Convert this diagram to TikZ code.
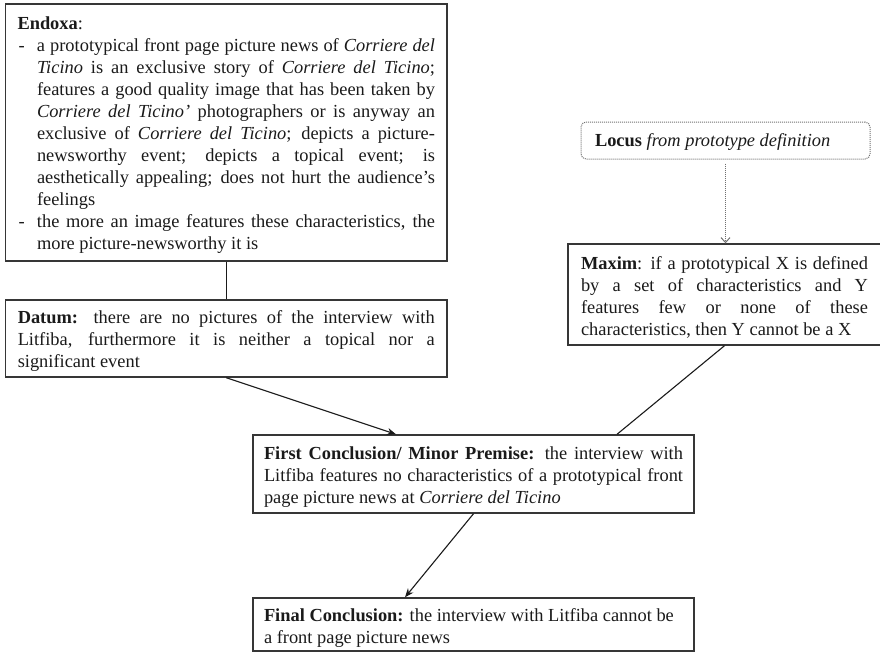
\documentclass[tikz,border=0pt]{standalone}
\usepackage{fontspec}
\setmainfont{Liberation Serif}
\usetikzlibrary{arrows.meta}
\definecolor{ink}{HTML}{1A1A1A}
\definecolor{edge}{HTML}{363636}
\definecolor{dotc}{HTML}{707070}
% justified line / natural line of given width
\newcommand\jl[2]{\hbox to #1{#2}}
\newcommand\nl[2]{\hbox to #1{#2\hfil}}
\newcommand\lines[2][6pt]{\vbox{\baselineskip=22pt\lineskiplimit=-30pt\lineskip=0pt\kern#1 #2}}
\newcommand\dashcell{\hbox to 19.5pt{\hskip1pt-\hfil}}
\newcommand\indcell{\hbox to 19.5pt{}}
\begin{document}
\begin{tikzpicture}[x=1pt,y=-1pt,
  box/.style={draw=edge, line width=1.4pt, inner sep=0pt, text=ink,
    font=\fontsize{18.4}{22}\selectfont},
  conn/.style={draw=ink, line width=1.1pt},
  arr/.style={conn, -{Stealth[length=9pt,width=7pt]}},
  dotarr/.style={draw=dotc, line width=1pt, dash pattern=on 1pt off 1pt,
    -{Straight Barb[length=5pt,width=9pt]}},
  locusbox/.style={box, draw=dotc, line width=1pt, dash pattern=on 1pt off 1pt, rounded corners=5pt}]
\useasboundingbox (0,0) rectangle (880,653);

\node[box, minimum width=441.5pt, minimum height=257pt] (endoxa) at (226.25,132.5) {\lines{%
\nl{417.5pt}{\textbf{Endoxa}:}
\hbox{\dashcell\jl{398pt}{a prototypical front page picture news of \textit{Corriere del}}}
\hbox{\indcell\jl{398pt}{\textit{Ticino} is an exclusive story of \textit{Corriere del Ticino};}}
\hbox{\indcell\jl{398pt}{features a good quality image that has been taken by}}
\hbox{\indcell\jl{398pt}{\textit{Corriere del Ticino’} photographers or is anyway an}}
\hbox{\indcell\jl{398pt}{exclusive of \textit{Corriere del Ticino}; depicts a picture-}}
\hbox{\indcell\jl{398pt}{newsworthy event; depicts a topical event; is}}
\hbox{\indcell\jl{398pt}{aesthetically appealing; does not hurt the audience’s}}
\hbox{\indcell\nl{398pt}{feelings}}
\hbox{\dashcell\jl{398pt}{the more an image features these characteristics, the}}
\hbox{\indcell\nl{398pt}{more picture-newsworthy it is}}}};

\node[box, minimum width=441.5pt, minimum height=77pt] (datum) at (226.25,338.5) {\lines{%
\jl{417pt}{\textbf{Datum:} there are no pictures of the interview with}
\jl{417pt}{Litfiba, furthermore it is neither a topical nor a}
\nl{417pt}{significant event}}};

\node[locusbox, minimum width=289pt, minimum height=37pt] (locus) at (725.5,140.5) {\lines[4pt]{%
\nl{261pt}{\textbf{Locus} \textit{from prototype definition}}}};

\node[box, minimum width=313pt, minimum height=101pt] (maxim) at (724.5,294.5) {\lines{%
\jl{287pt}{\textbf{Maxim}: if  a prototypical X is defined}
\jl{287pt}{by a set of characteristics and Y}
\jl{287pt}{features few or none of these}
\nl{287pt}{characteristics, then Y cannot be a X}}};

\node[box, minimum width=441pt, minimum height=78pt] (fc) at (473.5,474) {\lines[7pt]{%
\jl{419pt}{\textbf{First Conclusion/ Minor Premise:} the interview with}
\jl{419pt}{Litfiba features no characteristics of a prototypical front}
\nl{419pt}{page picture news at \textit{Corriere del Ticino}}}};

\node[box, minimum width=441pt, minimum height=53pt] (final) at (473.5,624.5) {\lines[7pt]{%
\nl{419pt}{\textbf{Final Conclusion:} the interview with Litfiba cannot be}
\nl{419pt}{a front page picture news}}};

\draw[conn] (endoxa.south) -- (datum.north);
\draw[arr] (datum.south) -- ([xshift=-77.5pt]fc.north);
\draw[conn] (maxim.south) -- ([xshift=143.5pt]fc.north);
\draw[arr] (fc.south) -- ([xshift=-68.5pt]final.north);
\draw[dotarr] ([yshift=-4pt]locus.south) -- ([xshift=1pt]maxim.north);
\end{tikzpicture}
\end{document}
